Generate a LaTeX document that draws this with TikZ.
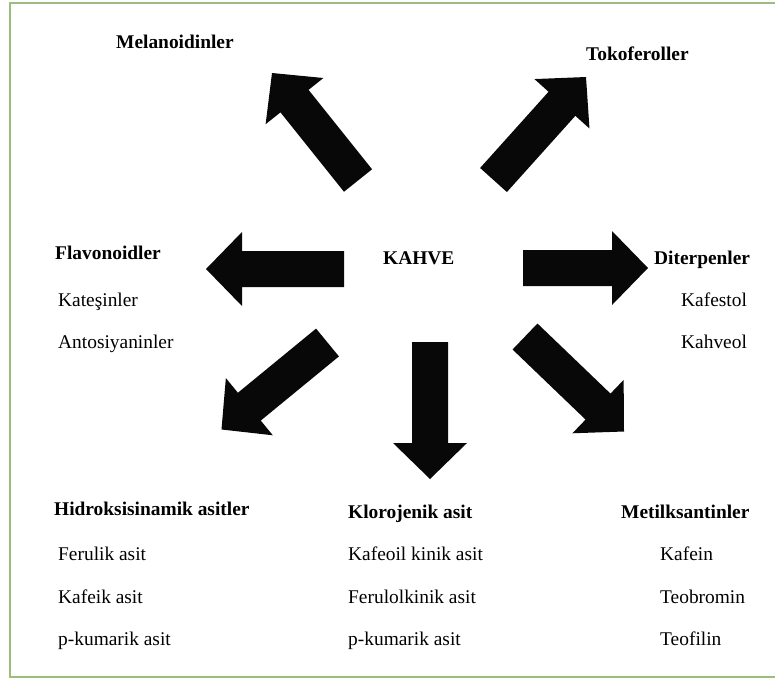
\documentclass[tikz,border=0pt]{standalone}
\usepackage{fontspec}
\setmainfont{Liberation Serif}
\usetikzlibrary{calc}
\definecolor{framegreen}{RGB}{155,190,125}
\tikzset{
  grp/.style = {font=\fontsize{19.4}{23}\selectfont\bfseries, anchor=base west, inner sep=0pt},
  item/.style = {font=\fontsize{19.4}{23}\selectfont, anchor=base west, inner sep=0pt},
  blk/.style = {fill=black!97}
}
% block arrow: #1 name, #2 tail centre, #3 tip
\newcommand{\blockarrow}[3]{%
  \coordinate (#1-t) at #2; \coordinate (#1-p) at #3;
  \coordinate (#1-h) at ($(#1-p)!36pt!(#1-t)$);
  \fill[blk] ($(#1-t)!18pt!90:(#1-p)$) -- ($(#1-h)!18pt!90:(#1-p)$) -- ($(#1-h)!37pt!90:(#1-p)$)
    -- (#1-p) -- ($(#1-h)!37pt!-90:(#1-p)$) -- ($(#1-h)!18pt!-90:(#1-p)$) -- ($(#1-t)!18pt!-90:(#1-p)$) -- cycle;}

\begin{document}
\begin{tikzpicture}[x=1pt, y=-1pt]
  \useasboundingbox (0,0) rectangle (775,678);
  \draw[framegreen, line width=1.5pt] (776,3) -- (10,3) -- (10,677) -- (776,677);

  \node[grp] (kahve) at (383,264) {KAHVE};

  % arrows
  \blockarrow{mel}{(358,180.5)}{(272,73)}
  \blockarrow{tok}{(493.5,180)}{(586,77)}
  \blockarrow{fla}{(344,269)}{(206,269)}
  \blockarrow{dit}{(523,268)}{(648,268)}
  \blockarrow{hid}{(327.5,342.5)}{(221.5,429.5)}
  \blockarrow{klo}{(430,342)}{(430,479)}
  \blockarrow{met}{(525,336.5)}{(624,431.5)}

  % groups
  \node[grp] (melano) at (116,48) {Melanoidinler};
  \node[grp] (tokof) at (586,60) {Tokoferoller};

  \node[grp] (flavo) at (55,259) {Flavonoidler};
  \node[item] (kates) at (58,306) {Kateşinler};
  \node[item] (antos) at (58,348) {Antosiyaninler};

  \node[grp] (diter) at (654,264) {Diterpenler};
  \node[item] (kafes) at (681,306) {Kafestol};
  \node[item] (kahveol) at (681,348) {Kahveol};

  \node[grp] (hidro) at (54,515) {Hidroksisinamik asitler};
  \node[item] (feru) at (58,560) {Ferulik asit};
  \node[item] (kafeik) at (58,603) {Kafeik asit};
  \node[item] (pkum) at (58,645) {p-kumarik asit};

  \node[grp] (kloro) at (348,518) {Klorojenik asit};
  \node[item] (kafeoil) at (348,560) {Kafeoil kinik asit};
  \node[item] (ferulol) at (348,603) {Ferulolkinik asit};
  \node[item] (pkum2) at (348,645) {p-kumarik asit};

  \node[grp] (metil) at (621,518) {Metilksantinler};
  \node[item] (kafein) at (660,560) {Kafein};
  \node[item] (teobr) at (660,603) {Teobromin};
  \node[item] (teofi) at (660,645) {Teofilin};
\end{tikzpicture}
\end{document}
